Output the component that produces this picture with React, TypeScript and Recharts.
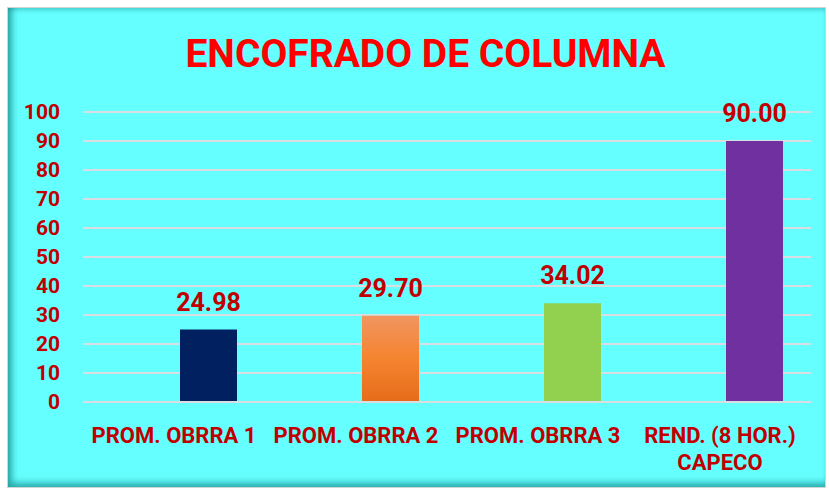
import React from 'react';
import { BarChart, Bar, XAxis, YAxis, CartesianGrid, Cell, LabelList } from 'recharts';

const title = 'ENCOFRADO DE COLUMNA';
const categories = ['PROM. OBRRA 1', 'PROM. OBRRA 2', 'PROM. OBRRA 3', 'REND. (8 HOR.)\nCAPECO'];
const values = [24.98, 29.7, 34.02, 90.0];
const spacerValues: (number | null)[] = [null, null, null, null];
const yTicks = [0, 10, 20, 30, 40, 50, 60, 70, 80, 90, 100];
const barColors = ['#002060', 'url(#orangeGrad)', '#92D050', '#7030A0'];

const data = categories.map((name, i) => ({ name, spacer: spacerValues[i], value: values[i] }));

const FONT = 'Roboto, "Open Sans", sans-serif';
const DARK_RED = '#C00000';

const CategoryTick = (props: any) => {
  const { x, y, payload } = props;
  const lines = String(payload.value).split('\n');
  return (
    <text x={x} y={y} textAnchor="middle" fill={DARK_RED} fontSize={22} fontWeight="bold" fontFamily={FONT}>
      {lines.map((l, i) => (
        <tspan key={i} x={x} dy={i === 0 ? 41 : 27}>
          {l}
        </tspan>
      ))}
    </text>
  );
};

export default function App() {
  return (
    <div
      style={{
        position: 'absolute',
        left: 7,
        top: 7,
        width: 819,
        height: 481,
        boxSizing: 'border-box',
        border: '1px solid #cfd4d4',
        background: '#66FFFF',
        boxShadow: 'inset 7px -7px 7px -3px rgba(0,110,110,0.6), inset 0 3px 4px -1px rgba(0,110,110,0.35)',
        overflow: 'hidden',
      }}
    >
      <div
        style={{
          position: 'absolute',
          left: 0,
          top: 27,
          width: 835,
          textAlign: 'center',
          fontFamily: FONT,
          fontWeight: 'bold',
          fontSize: 39,
          lineHeight: 1,
          color: '#FF0000',
        }}
      >
        {title}
      </div>
      <div style={{ position: 'absolute', left: 0, top: 0 }}>
        <BarChart
          width={817}
          height={479}
          data={data}
          margin={{ top: 104, right: 14, left: 0, bottom: 0 }}
          barGap={12}
        >
          <defs>
            <linearGradient id="orangeGrad" x1="0" y1="0" x2="0" y2="1">
              <stop offset="0%" stopColor="#F19560" />
              <stop offset="50%" stopColor="#F5842F" />
              <stop offset="100%" stopColor="#E56C1A" />
            </linearGradient>
          </defs>
          <CartesianGrid horizontal vertical={false} stroke="#D9DEE2" strokeWidth={2} />
          <XAxis
            dataKey="name"
            height={85}
            tickLine={false}
            tickSize={0}
            tickMargin={0}
            axisLine={{ stroke: '#D9DEE2', strokeWidth: 2 }}
            tick={<CategoryTick />}
            interval={0}
          />
          <YAxis
            width={75}
            domain={[0, 100]}
            ticks={yTicks}
            interval={0}
            axisLine={false}
            tickLine={false}
            tickSize={0}
            tickMargin={23}
            tick={{ fill: DARK_RED, fontSize: 21, fontWeight: 'bold', fontFamily: FONT }}
          />
          <Bar dataKey="spacer" barSize={57} isAnimationActive={false} fill="transparent" />
          <Bar dataKey="value" barSize={57} isAnimationActive={false}>
            {values.map((_, i) => (
              <Cell key={i} fill={barColors[i]} />
            ))}
            <LabelList
              dataKey="value"
              position="top"
              offset={19}
              formatter={(v: any) => Number(v).toFixed(2)}
              fill={DARK_RED}
              fontSize={25}
              fontWeight="bold"
              fontFamily={FONT}
            />
          </Bar>
        </BarChart>
      </div>
    </div>
  );
}
